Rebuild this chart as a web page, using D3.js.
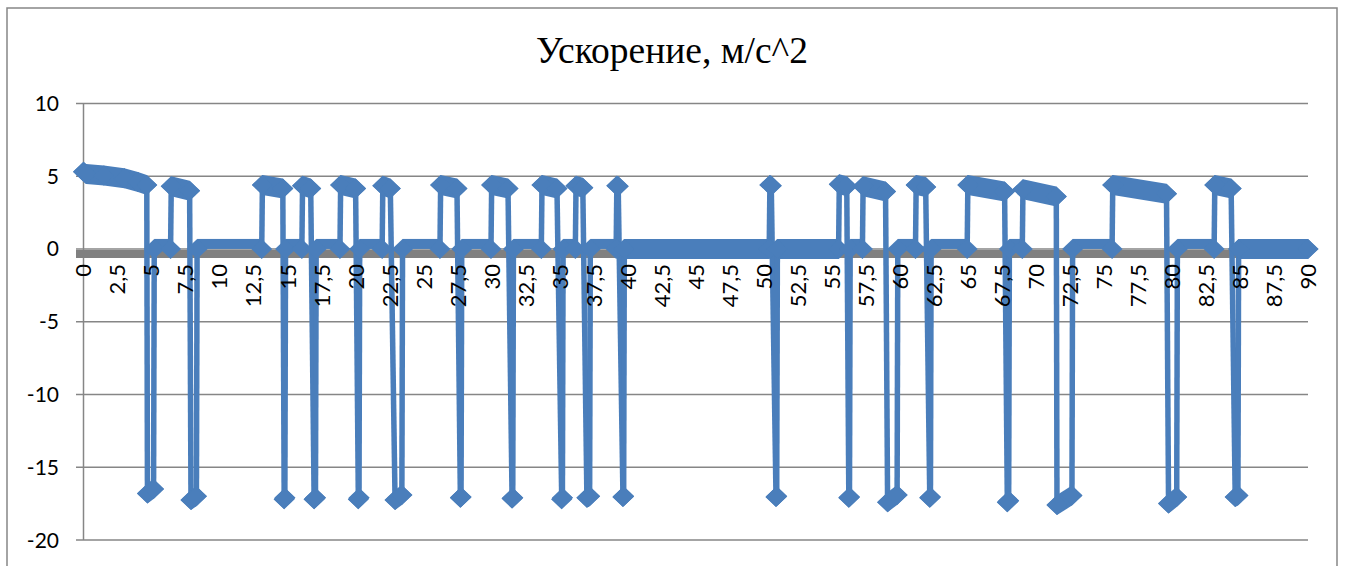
<!DOCTYPE html>
<html><head><meta charset="utf-8">
<script src="https://cdn.jsdelivr.net/npm/d3@7"></script>
<style>html,body{margin:0;padding:0;background:#fff;} svg{display:block}</style>
</head><body><svg id="c" width="1346" height="566"></svg>
<script>
const title = "Ускорение, м/с^2";
// key points of the series (time, acceleration)
const time = [
  0, 0.2, 1.5, 3.0, 4.0, 4.65, 4.7, 5.15, 5.2, 6.4,
  6.45, 7.8, 7.9, 8.3, 8.35, 13.1,
  13.15, 14.65, 14.75, 14.8, 14.85, 16.05,
  16.1, 16.7, 16.95, 17.05, 17.1, 18.85,
  18.9, 20.0, 20.2, 20.25, 20.3, 21.95,
  22.0, 22.55, 22.9, 23.4, 23.45, 26.2,
  26.25, 27.45, 27.7, 27.75, 27.8, 29.95,
  30.0, 31.2, 31.5, 31.55, 31.6, 33.65,
  33.7, 34.8, 35.15, 35.2, 35.25, 36.15,
  36.2, 36.7, 37.0, 37.2, 37.25, 39.15,
  39.2, 39.3, 39.65, 39.7, 39.75, 50.4,
  50.45, 50.55, 50.9, 50.95, 51.0, 55.5,
  55.55, 56.1, 56.25, 56.3, 56.35, 57.25,
  57.3, 58.95, 59.1, 59.8, 59.85, 61.15,
  61.2, 61.9, 62.2, 62.25, 62.3, 64.95,
  65.0, 67.7, 67.9, 68.0, 68.05, 69.0,
  69.05, 71.5, 71.55, 72.65, 72.7, 75.6,
  75.65, 79.6, 79.75, 80.35, 80.4, 83.1,
  83.15, 84.35, 84.65, 84.85, 84.9, 90
];
const accel = [
  5.3, 5.15, 5.05, 4.85, 4.6, 4.4, -16.8, -16.5, 0, 0,
  4.3, 4.0, -17.25, -17.0, 0, 0,
  4.4, 4.15, -17.2, -17.1, 0, 0,
  4.35, 4.15, -17.2, -17.1, 0, 0,
  4.4, 4.15, -17.2, -17.1, 0, 0,
  4.35, 4.15, -17.25, -16.9, 0, 0,
  4.4, 4.15, -17.1, -17.05, 0, 0,
  4.4, 4.15, -17.15, -17.1, 0, 0,
  4.4, 4.15, -17.2, -17.1, 0, 0,
  4.35, 4.2, -17.1, -17.0, 0, 0,
  4.35, 4.3, -17.05, -17.0, 0, 0,
  4.4, 4.35, -17.05, -17.0, 0, 0,
  4.45, 4.3, -17.1, -17.05, 0, 0,
  4.3, 3.95, -17.4, -16.9, 0, 0,
  4.4, 4.25, -17.1, -17.05, 0, 0,
  4.4, 3.95, -17.4, -17.3, 0, 0,
  4.1, 3.6, -17.6, -16.95, 0, 0,
  4.4, 3.8, -17.5, -17.05, 0, 0,
  4.4, 4.15, -17.05, -16.95, 0, 0
];
// zero phases sampled densely (start times)
const denseZeroStart = [39.75, 51.0, 84.9];
const yTicks = [-20, -15, -10, -5, 0, 5, 10];
const xTickValues = [0, 2.5, 5, 7.5, 10, 12.5, 15, 17.5, 20, 22.5, 25, 27.5, 30, 32.5, 35, 37.5, 40, 42.5, 45, 47.5,
  50, 52.5, 55, 57.5, 60, 62.5, 65, 67.5, 70, 72.5, 75, 77.5, 80, 82.5, 85, 87.5, 90];

const BLUE = "#4A7EBB", GRID = "#868686";
const svg = d3.select("#c");
const x = d3.scaleLinear().domain([0, 90]).range([83.5, 1308]);
const y = d3.scaleLinear().domain([-20, 10]).range([540, 103.4]);
const y0 = y(0);

// chart border
svg.append("rect").attr("x", 7).attr("y", 8).attr("width", 1330).attr("height", 580)
  .attr("fill", "#fff").attr("stroke", GRID).attr("stroke-width", 1.5);

// title
svg.append("text").attr("x", 672).attr("y", 63).attr("text-anchor", "middle")
  .attr("font-family", "'Liberation Serif','Times New Roman',serif").attr("font-size", 37.5)
  .attr("fill", "#000").text(title);

// gridlines
svg.append("g").selectAll("line").data(yTicks).join("line")
  .attr("x1", 76).attr("x2", x(90)).attr("y1", d => y(d)).attr("y2", d => y(d))
  .attr("stroke", GRID).attr("stroke-width", 1.5);
svg.append("line").attr("x1", x(0)).attr("x2", x(0)).attr("y1", y(10)).attr("y2", y(-20))
  .attr("stroke", GRID).attr("stroke-width", 1.5);
svg.append("g").selectAll("text").data(yTicks).join("text")
  .attr("x", 59).attr("y", d => y(d)).attr("dy", "0.36em").attr("text-anchor", "end")
  .attr("font-family", "Lato, 'Open Sans', sans-serif").attr("font-size", 21).attr("fill", "#000")
  .text(d => d);

// build segments
const pts = time.map((t, i) => ({t, v: accel[i]}));
const segs = [];
for (let i = 0; i < pts.length - 1; i++) {
  const a = pts[i], b = pts[i + 1];
  let type;
  if (Math.abs(b.v - a.v) > 3) type = "jump";
  else if (a.v === 0 && b.v === 0) type = denseZeroStart.some(s => Math.abs(s - a.t) < 1e-6) ? "band" : "zero";
  else type = "band";
  segs.push({a, b, type});
}
const HW = 10.5, HH = 10;

// thin zero phases
svg.append("g").selectAll("rect").data(segs.filter(s => s.type === "zero")).join("rect")
  .attr("x", s => x(s.a.t)).attr("width", s => x(s.b.t) - x(s.a.t))
  .attr("y", y0 - 10).attr("height", 10).attr("fill", BLUE);

// thick gray horizontal axis line
svg.append("line").attr("x1", 76).attr("x2", x(90)).attr("y1", y0 + 5).attr("y2", y0 + 5)
  .attr("stroke", "#808080").attr("stroke-width", 8);

// dense bands
svg.append("g").selectAll("path").data(segs.filter(s => s.type === "band")).join("path")
  .attr("d", s => {
    const x1 = x(s.a.t), y1 = y(s.a.v), x2 = x(s.b.t), y2 = y(s.b.v);
    return `M${x1 - HW},${y1}L${x1},${y1 - HH}L${x2},${y2 - HH}L${x2 + HW},${y2}L${x2},${y2 + HH}L${x1},${y1 + HH}Z`;
  })
  .attr("fill", BLUE);

// jump lines
svg.append("g").selectAll("line").data(segs.filter(s => s.type === "jump")).join("line")
  .attr("x1", s => x(s.a.t)).attr("y1", s => y(s.a.v)).attr("x2", s => x(s.b.t)).attr("y2", s => y(s.b.v))
  .attr("stroke", BLUE).attr("stroke-width", 5.5);

// markers
svg.append("g").selectAll("path").data(pts).join("path")
  .attr("d", p => {
    const cx = x(p.t), cy = y(p.v);
    return `M${cx - HW},${cy}L${cx},${cy - HH}L${cx + HW},${cy}L${cx},${cy + HH}Z`;
  })
  .attr("fill", BLUE);

// x labels
svg.append("g").selectAll("text").data(xTickValues).join("text")
  .attr("transform", d => `translate(${x(d)},${y0 + 15}) rotate(-90)`)
  .attr("dy", "0.36em").attr("text-anchor", "end")
  .attr("font-family", "Lato, 'Open Sans', sans-serif").attr("font-size", 22).attr("fill", "#000")
  .text(d => String(d).replace(".", ","));
</script></body></html>
